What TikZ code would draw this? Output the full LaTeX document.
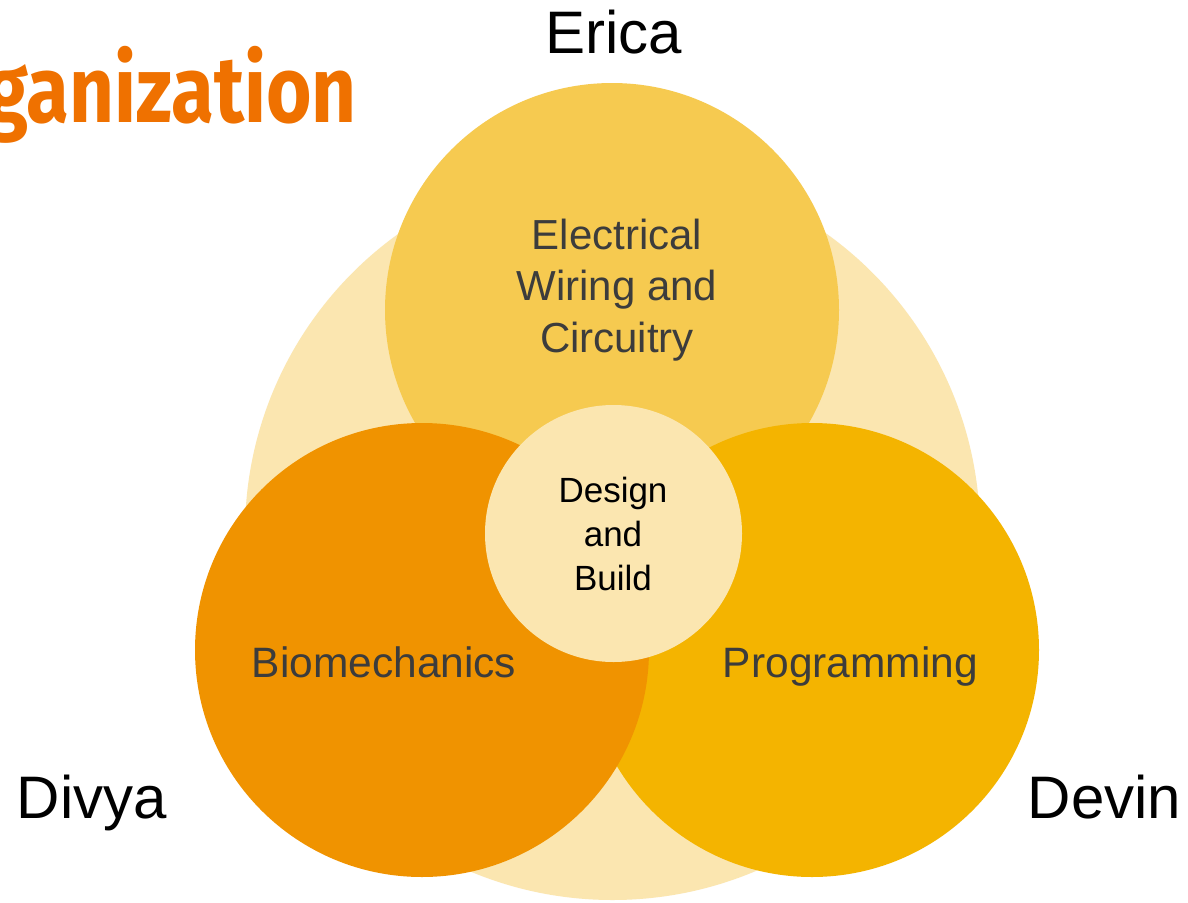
\documentclass[tikz,border=0pt]{standalone}
\usepackage{fontspec}
\setmainfont{Liberation Sans}
\newfontfamily\titlefont[FakeStretch=0.83]{Fira Sans Bold}
\definecolor{paleamber}{HTML}{FBE6B0}
\definecolor{goldtop}{HTML}{F6CA50}
\definecolor{deeporange}{HTML}{F09300}
\definecolor{amber}{HTML}{F4B400}
\definecolor{coreamber}{HTML}{FBE6B0}
\definecolor{labelgray}{HTML}{3C3C3C}
\definecolor{titleorange}{HTML}{EF7100}
\tikzset{
  disc/.style={circle, inner sep=0pt, draw=none},
  area/.style={text=labelgray, align=center, inner sep=0pt},
  person/.style={text=black, anchor=base, inner sep=0pt, font=\fontsize{60}{60}\selectfont},
}
\begin{document}
\begin{tikzpicture}[x=1pt, y=-1pt]
  \useasboundingbox (0,0) rectangle (1188,902);
  \clip (0,0) rectangle (1188,902);
  \fill[white] (0,0) rectangle (1188,902);

  % title, running off the left edge
  \node[anchor=base east, inner sep=0pt, text=titleorange,
        font=\titlefont\fontsize{94}{94}\selectfont] (title) at (357,122) {Organization};

  % backdrop and the three fields
  \node[disc, fill=paleamber, minimum size=735pt] (outer) at (612.5,532.5) {};
  \node[disc, fill=goldtop, minimum size=454pt] (elec) at (612,310) {};
  \node[disc, fill=amber, minimum size=454pt] (prog) at (812,650) {};
  \node[disc, fill=deeporange, minimum size=454pt] (bio) at (422,650) {};
  \node[disc, fill=coreamber, minimum size=257pt] (core) at (613.5,533.5) {};

  % field labels
  \node[area, font=\fontsize{42}{51.5}\selectfont] (elecText) at (617,290)
    {Electrical\\Wiring and\\Circuitry};
  \node[area, anchor=base, font=\fontsize{42.5}{42.5}\selectfont] (bioText) at (384,677.5) {Biomechanics};
  \node[area, anchor=base, font=\fontsize{42.5}{42.5}\selectfont] (progText) at (850.5,677) {Programming};
  \node[area, text=black, font=\fontsize{35}{44}\selectfont] (coreText) at (613,533.5)
    {Design\\and\\Build};

  % people
  \node[person] (erica) at (613.5,53) {Erica};
  \node[person] (divya) at (92,818) {Divya};
  \node[person] (devin) at (1104.5,818) {Devin};
\end{tikzpicture}
\end{document}
